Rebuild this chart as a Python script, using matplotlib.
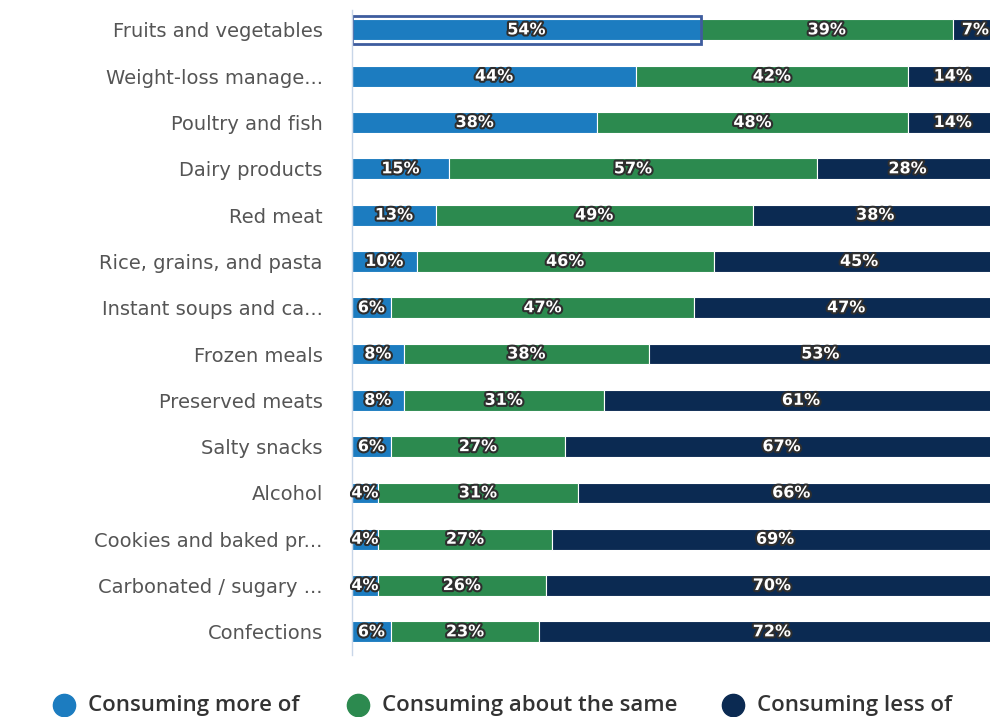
import numpy as np
import matplotlib.pyplot as plt
import matplotlib.patheffects as pe
from matplotlib.lines import Line2D

# Datos
categorias = ["Fruits and vegetables", "Weight-loss manage...", "Poultry and fish",
              "Dairy products", "Red meat", "Rice, grains, and pasta",
              "Instant soups and ca...", "Frozen meals", "Preserved meats",
              "Salty snacks", "Alcohol", "Cookies and baked pr...",
              "Carbonated / sugary ...", "Confections"]
mas = [54, 44, 38, 15, 13, 10, 6, 8, 8, 6, 4, 4, 4, 6]
igual = [39, 42, 48, 57, 49, 46, 47, 38, 31, 27, 31, 27, 26, 23]
menos = [7, 14, 14, 28, 38, 45, 47, 53, 61, 67, 66, 69, 70, 72]
series_nombres = ["Consuming more of", "Consuming about the same", "Consuming less of"]
colores = ["#1c7cc0", "#2c8a4f", "#0b2a52"]

fig = plt.figure(figsize=(9.9, 7.17), dpi=100)
# el eje se sale un poco por la derecha, como en la captura original
ax = fig.add_axes([352 / 990, 62 / 717, 646 / 990, 645 / 717])

y = np.arange(len(categorias))
izq = np.zeros(len(categorias))
halo = [pe.withStroke(linewidth=3, foreground="#2e2e2e")]
for vals, col in zip([mas, igual, menos], colores):
    vals = np.array(vals, dtype=float)
    ax.barh(y, vals, left=izq, height=0.45, color=col, edgecolor="white", linewidth=0.8)
    for yi, l, v in zip(y, izq, vals):
        ax.text(l + v / 2, yi, f"{int(v)}%", ha="center", va="center", color="white",
                fontsize=11.5, fontweight="bold", path_effects=halo)
    izq += vals

# barra resaltada (hover) en la primera fila
ax.barh(y[0], mas[0], height=0.6, fill=False, edgecolor="#3d5c9e", linewidth=2)

ax.set_xlim(0, 100)
ax.set_ylim(13.5, -0.43)
ax.set_yticks(y)
ax.set_yticklabels(categorias, fontsize=14, color="#555555", family="DejaVu Sans")
ax.tick_params(axis="y", length=0, pad=21)
ax.set_xticks([])
for s in ["top", "right", "bottom"]:
    ax.spines[s].set_visible(False)
ax.spines["left"].set_color("#c8d6e8")
ax.spines["left"].set_linewidth(1)

# Leyenda hecha a mano: círculo + texto
pos_marcador = [0.0646, 0.3616, 0.7404]
y_ley = 0.0167
for nombre, col, xpos in zip(series_nombres, colores, pos_marcador):
    fig.add_artist(Line2D([xpos], [y_ley], marker="o", linestyle="", markersize=16,
                          markerfacecolor=col, markeredgecolor=col,
                          transform=fig.transFigure))
    fig.text(xpos + 0.024, y_ley, nombre, ha="left", va="center", fontsize=16,
             family=["Open Sans", "DejaVu Sans"], fontweight="semibold", color="#333333")

fig.savefig("out.png", dpi=100)
